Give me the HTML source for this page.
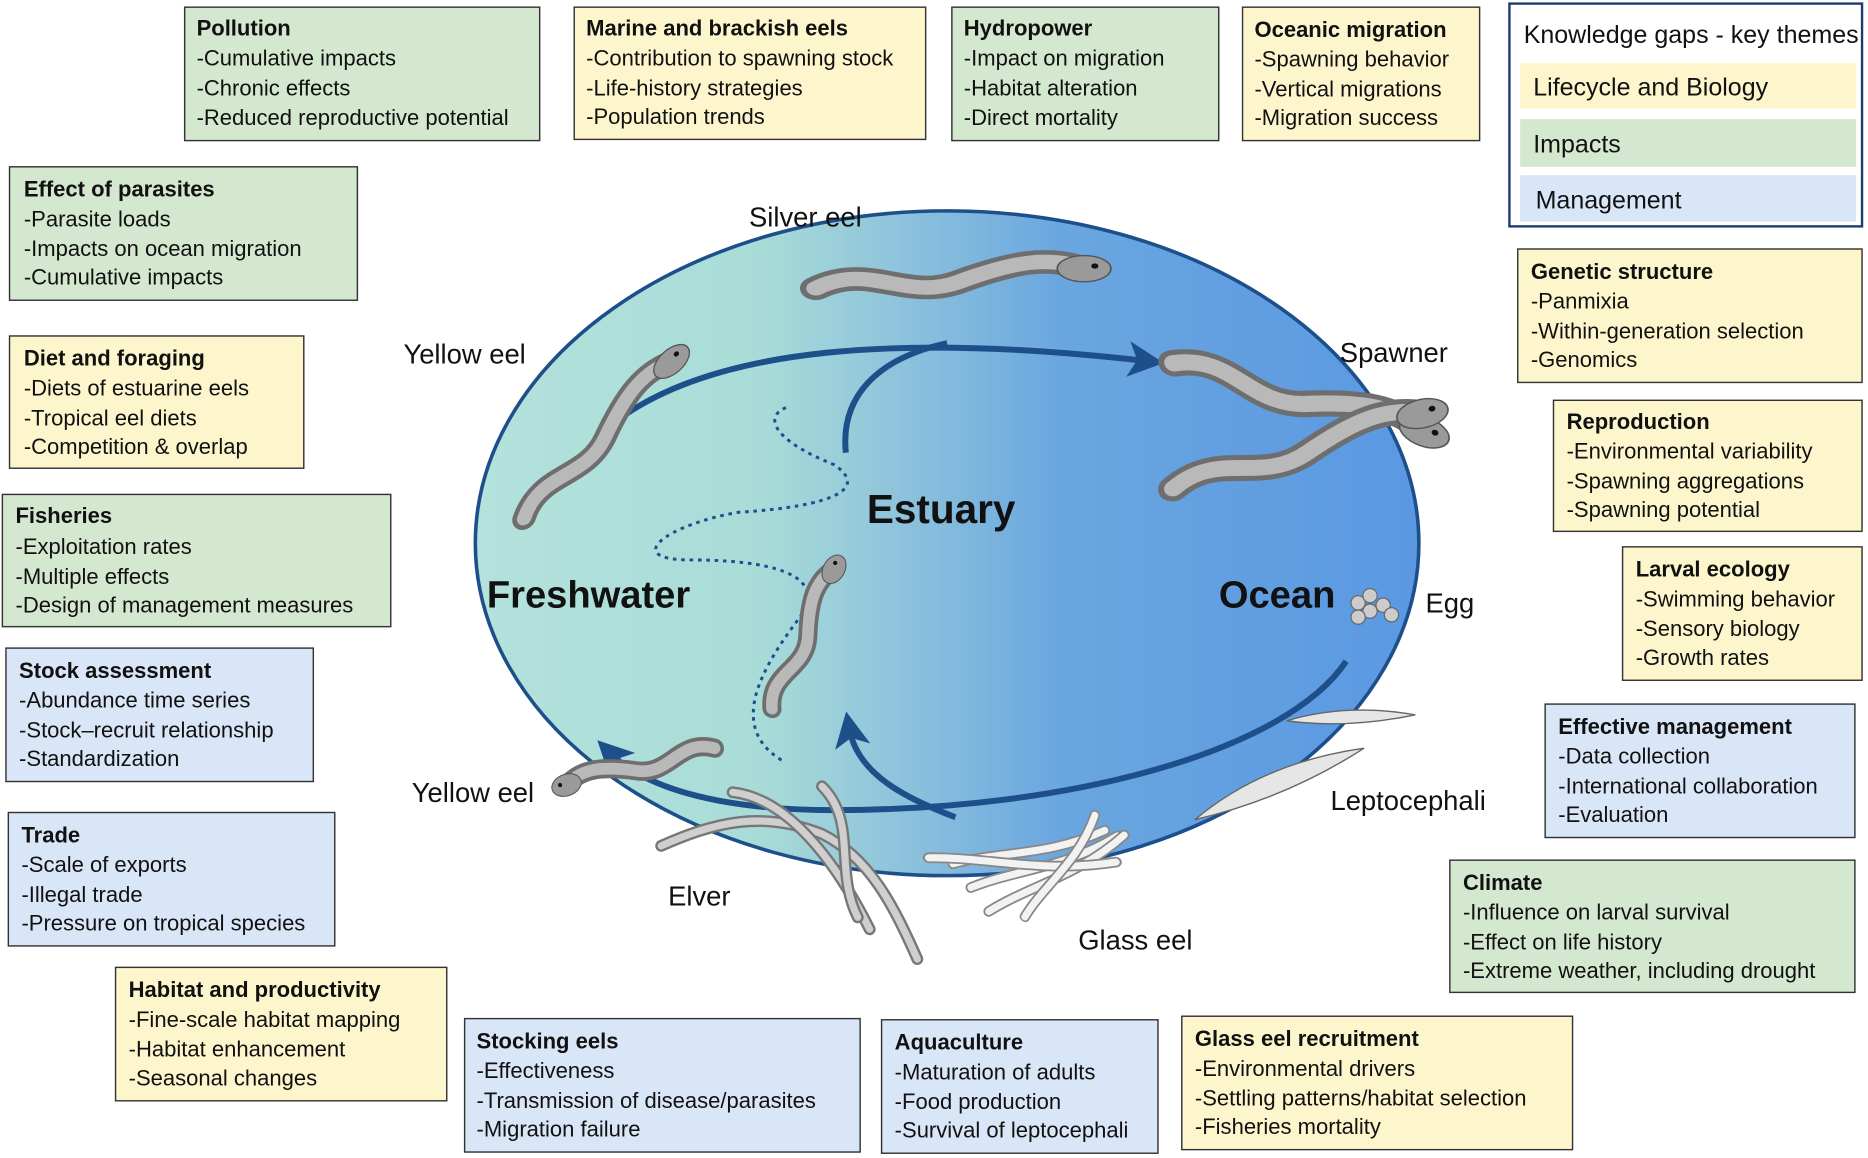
<!DOCTYPE html>
<html><head><meta charset="utf-8"><style>
html,body{margin:0;padding:0;background:#fff;}
svg{display:block;}
text{font-family:"Liberation Sans",sans-serif;fill:#111;}
.t{font-size:18.5px;}
.b{font-weight:bold;}
.g{fill:#d3e8cf;stroke:#333;stroke-width:1.2;}
.y{fill:#fdf6cc;stroke:#333;stroke-width:1.2;}
.u{fill:#d9e6f7;stroke:#333;stroke-width:1.2;}
.lab{font-size:23px;}
.eel{fill:none;stroke:#6e6e6e;stroke-linecap:round;stroke-linejoin:round;}
.eel2{fill:none;stroke:#b9b9b9;stroke-linecap:round;stroke-linejoin:round;}
</style></head><body>
<svg width="1868" height="1158" viewBox="0 0 1568 972" xmlns="http://www.w3.org/2000/svg">
<defs>
<linearGradient id="bg" x1="398" y1="0" x2="1192" y2="0" gradientUnits="userSpaceOnUse">
<stop offset="0" stop-color="#b4e2dc"/><stop offset="0.3" stop-color="#a9dcd8"/>
<stop offset="0.45" stop-color="#8ec3dc"/><stop offset="0.62" stop-color="#6aa6e0"/>
<stop offset="1" stop-color="#5a98e2"/></linearGradient>
<marker id="ah" markerWidth="6" markerHeight="6" refX="3" refY="3" orient="auto" markerUnits="strokeWidth">
<path d="M0,0 L6,3 L0,6 L1.5,3 z" fill="#1d4f8a"/></marker>
<g id="eel">
<path class="eel" stroke-width="18" d="M0,0 C30,-20 50,10 80,-5 S130,-25 150,-15"/>
<path class="eel2" stroke-width="11" d="M0,0 C30,-20 50,10 80,-5 S130,-25 150,-15"/>
<ellipse cx="150" cy="-15" rx="15" ry="10" fill="#9a9a9a" stroke="#555"/>
<circle cx="156" cy="-17" r="2" fill="#111"/>
</g>
<g id="glass"><path d="M0,0 C40,-5 80,5 130,-10" fill="none" stroke="#888" stroke-width="9" stroke-linecap="round"/><path d="M0,0 C40,-5 80,5 130,-10" fill="none" stroke="#f2f2f2" stroke-width="6" stroke-linecap="round"/></g>
</defs>

<ellipse cx="795" cy="456" rx="396" ry="279" fill="url(#bg)" stroke="#1d4f8a" stroke-width="3"/>

<!-- arrows -->
<path d="M515,355 C600,290 760,280 962,303" fill="none" stroke="#1d4f8a" stroke-width="5" marker-end="url(#ah)"/>
<path d="M710,380 C705,330 740,300 795,288" fill="none" stroke="#1d4f8a" stroke-width="5"/>
<path d="M1130,555 C1080,630 900,680 700,680 C600,680 540,660 512,632" fill="none" stroke="#1d4f8a" stroke-width="5" marker-end="url(#ah)"/>
<path d="M802,686 C760,670 720,650 713,612" fill="none" stroke="#1d4f8a" stroke-width="5" marker-end="url(#ah)"/>
<path d="M656,638 C610,610 640,560 670,520 C700,480 640,470 580,470 C520,470 560,440 620,430 C700,425 730,410 700,390 C650,370 640,350 660,342" fill="none" stroke="#1d4f8a" stroke-width="2.5" stroke-dasharray="3,4"/>

<!-- eels -->
<use href="#eel" transform="translate(685,242) scale(1.5,1.1)"/>
<use href="#eel" transform="translate(985,305) rotate(20) scale(1.45,1.2)"/>
<use href="#eel" transform="translate(985,410) rotate(-12) scale(1.45,1.2)"/>
<use href="#eel" transform="translate(440,435) rotate(-42) scale(1.2,1)"/>
<use href="#eel" transform="translate(600,628) rotate(-200) scale(0.85,-0.9)"/>
<use href="#eel" transform="translate(648,595) rotate(-60) scale(0.85,0.9)"/>
<path d="M1080,605 Q1130,590 1188,600 Q1130,612 1080,605z" fill="#e6e6e6" stroke="#666" stroke-width="1.2"/>
<path d="M1003,688 Q1060,640 1145,628 Q1080,670 1003,688z" fill="#e6e6e6" stroke="#666" stroke-width="1.2"/>
<g transform="translate(1140,506)"><circle r="6" cx="0" cy="0" fill="#ccc" stroke="#666"/><circle r="6" cx="10" cy="-6" fill="#ccc" stroke="#666"/><circle r="6" cx="10" cy="7" fill="#ccc" stroke="#666"/><circle r="6" cx="21" cy="2" fill="#ccc" stroke="#666"/><circle r="6" cx="28" cy="10" fill="#ccc" stroke="#666"/><circle r="6" cx="0" cy="12" fill="#ccc" stroke="#666"/></g>
<use href="#glass" transform="translate(800,725) rotate(-8)"/>
<use href="#glass" transform="translate(815,745) rotate(-15)"/>
<use href="#glass" transform="translate(830,765) rotate(-25)"/>
<use href="#glass" transform="translate(780,720) rotate(5) scale(1.2,1)"/>
<use href="#glass" transform="translate(860,770) rotate(-50) scale(0.8,1)"/>
<path d="M555,710 C600,690 640,680 690,700 C730,720 750,760 770,805" fill="none" stroke="#777" stroke-width="10" stroke-linecap="round"/>
<path d="M555,710 C600,690 640,680 690,700 C730,720 750,760 770,805" fill="none" stroke="#cfcfcf" stroke-width="6" stroke-linecap="round"/>
<path d="M615,665 C660,670 700,720 730,780" fill="none" stroke="#777" stroke-width="10" stroke-linecap="round"/>
<path d="M615,665 C660,670 700,720 730,780" fill="none" stroke="#cfcfcf" stroke-width="6" stroke-linecap="round"/>
<path d="M690,660 C720,690 700,730 720,770" fill="none" stroke="#777" stroke-width="10" stroke-linecap="round"/>
<path d="M690,660 C720,690 700,730 720,770" fill="none" stroke="#cfcfcf" stroke-width="6" stroke-linecap="round"/>

<!-- labels -->
<text class="lab" x="676" y="190" text-anchor="middle">Silver eel</text>
<text class="lab" x="390" y="305" text-anchor="middle">Yellow eel</text>
<text class="lab" x="1170" y="304" text-anchor="middle">Spawner</text>
<text class="b" x="790" y="439" text-anchor="middle" font-size="34">Estuary</text>
<text class="b" x="494" y="510" text-anchor="middle" font-size="32">Freshwater</text>
<text class="b" x="1072" y="510" text-anchor="middle" font-size="32">Ocean</text>
<text class="lab" x="1217" y="514" text-anchor="middle">Egg</text>
<text class="lab" x="1182" y="680" text-anchor="middle">Leptocephali</text>
<text class="lab" x="397" y="673" text-anchor="middle">Yellow eel</text>
<text class="lab" x="587" y="760" text-anchor="middle">Elver</text>
<text class="lab" x="953" y="797" text-anchor="middle">Glass eel</text>

<!-- legend -->
<rect x="1267" y="3" width="296" height="187" fill="#fff" stroke="#1d3a6e" stroke-width="2"/>
<text x="1279" y="36" font-size="21">Knowledge gaps - key themes</text>
<rect x="1276" y="53" width="282" height="38" fill="#fdf6cc"/>
<rect x="1276" y="100" width="282" height="40" fill="#d3e8cf"/>
<rect x="1276" y="147" width="282" height="39" fill="#d9e6f7"/>
<text x="1287" y="80" font-size="21">Lifecycle and Biology</text>
<text x="1287" y="128" font-size="21">Impacts</text>
<text x="1289" y="175" font-size="21">Management</text>

<!-- boxes -->
<g class="t">
<rect class="g" x="155" y="6" width="298" height="112"/>
<text x="165" y="30" class="b">Pollution</text><text x="165" y="55">-Cumulative impacts</text><text x="165" y="80">-Chronic effects</text><text x="165" y="105">-Reduced reproductive potential</text>

<rect class="y" x="482" y="6" width="295" height="111"/>
<text x="492" y="30" class="b">Marine and brackish eels</text><text x="492" y="55">-Contribution to spawning stock</text><text x="492" y="80">-Life-history strategies</text><text x="492" y="104">-Population trends</text>

<rect class="g" x="799" y="6" width="224" height="112"/>
<text x="809" y="30" class="b">Hydropower</text><text x="809" y="55">-Impact on migration</text><text x="809" y="80">-Habitat alteration</text><text x="809" y="105">-Direct mortality</text>

<rect class="y" x="1043" y="6" width="199" height="112"/>
<text x="1053" y="31" class="b">Oceanic migration</text><text x="1053" y="56">-Spawning behavior</text><text x="1053" y="81">-Vertical migrations</text><text x="1053" y="105">-Migration success</text>

<rect class="g" x="8" y="140" width="292" height="112"/>
<text x="20" y="165" class="b">Effect of parasites</text><text x="20" y="190">-Parasite loads</text><text x="20" y="215">-Impacts on ocean migration</text><text x="20" y="239">-Cumulative impacts</text>

<rect class="y" x="8" y="282" width="247" height="111"/>
<text x="20" y="307" class="b">Diet and foraging</text><text x="20" y="332">-Diets of estuarine eels</text><text x="20" y="357">-Tropical eel diets</text><text x="20" y="381">-Competition &amp; overlap</text>

<rect class="g" x="2" y="415" width="326" height="111"/>
<text x="13" y="439" class="b">Fisheries</text><text x="13" y="465">-Exploitation rates</text><text x="13" y="490">-Multiple effects</text><text x="13" y="514">-Design of management measures</text>

<rect class="u" x="5" y="544" width="258" height="112"/>
<text x="16" y="569" class="b">Stock assessment</text><text x="16" y="594">-Abundance time series</text><text x="16" y="619">-Stock–recruit relationship</text><text x="16" y="643">-Standardization</text>

<rect class="u" x="7" y="682" width="274" height="112"/>
<text x="18" y="707" class="b">Trade</text><text x="18" y="732">-Scale of exports</text><text x="18" y="757">-Illegal trade</text><text x="18" y="781">-Pressure on tropical species</text>

<rect class="y" x="97" y="812" width="278" height="112"/>
<text x="108" y="837" class="b">Habitat and productivity</text><text x="108" y="862">-Fine-scale habitat mapping</text><text x="108" y="887">-Habitat enhancement</text><text x="108" y="911">-Seasonal changes</text>

<rect class="u" x="390" y="855" width="332" height="112"/>
<text x="400" y="880" class="b">Stocking eels</text><text x="400" y="905">-Effectiveness</text><text x="400" y="930">-Transmission of disease/parasites</text><text x="400" y="954">-Migration failure</text>

<rect class="u" x="740" y="856" width="232" height="112"/>
<text x="751" y="881" class="b">Aquaculture</text><text x="751" y="906">-Maturation of adults</text><text x="751" y="931">-Food production</text><text x="751" y="955">-Survival of leptocephali</text>

<rect class="y" x="992" y="853" width="328" height="112"/>
<text x="1003" y="878" class="b">Glass eel recruitment</text><text x="1003" y="903">-Environmental drivers</text><text x="1003" y="928">-Settling patterns/habitat selection</text><text x="1003" y="952">-Fisheries mortality</text>

<rect class="y" x="1274" y="209" width="289" height="112"/>
<text x="1285" y="234" class="b">Genetic structure</text><text x="1285" y="259">-Panmixia</text><text x="1285" y="284">-Within-generation selection</text><text x="1285" y="308">-Genomics</text>

<rect class="y" x="1304" y="336" width="259" height="110"/>
<text x="1315" y="360" class="b">Reproduction</text><text x="1315" y="385">-Environmental variability</text><text x="1315" y="410">-Spawning aggregations</text><text x="1315" y="434">-Spawning potential</text>

<rect class="y" x="1362" y="459" width="201" height="112"/>
<text x="1373" y="484" class="b">Larval ecology</text><text x="1373" y="509">-Swimming behavior</text><text x="1373" y="534">-Sensory biology</text><text x="1373" y="558">-Growth rates</text>

<rect class="u" x="1297" y="591" width="260" height="112"/>
<text x="1308" y="616" class="b">Effective management</text><text x="1308" y="641">-Data collection</text><text x="1308" y="666">-International collaboration</text><text x="1308" y="690">-Evaluation</text>

<rect class="g" x="1217" y="722" width="340" height="111"/>
<text x="1228" y="747" class="b">Climate</text><text x="1228" y="772">-Influence on larval survival</text><text x="1228" y="797">-Effect on life history</text><text x="1228" y="821">-Extreme weather, including drought</text>
</g>
</svg>
</body></html>
